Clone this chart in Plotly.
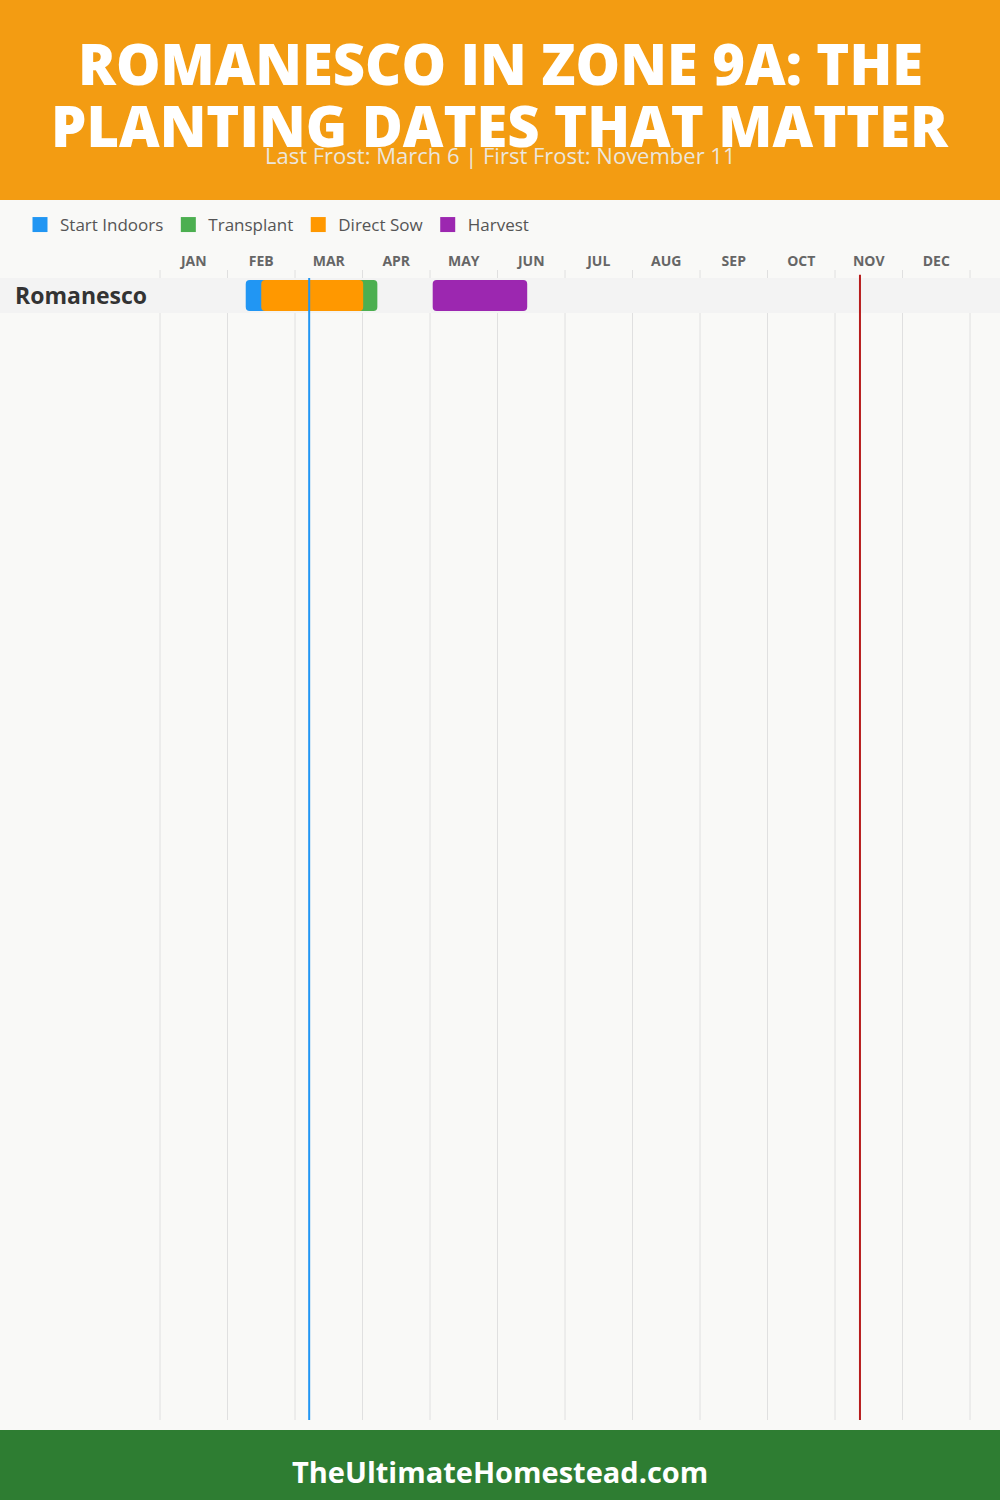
import plotly.graph_objects as go

# ---- data ----
crops = ["Romanesco"]
months = ["JAN", "FEB", "MAR", "APR", "MAY", "JUN", "JUL", "AUG", "SEP", "OCT", "NOV", "DEC"]
stages = ["Start Indoors", "Transplant", "Direct Sow", "Harvest"]
stage_colors = ["#2196F3", "#4CAF50", "#FF9800", "#9C27B0"]
# positions in months from Jan 1 (0 = Jan 1, 12 = Dec 31)
stage_start = [1.27, 2.20, 1.50, 4.04]
stage_end = [2.20, 3.22, 3.01, 5.44]
last_frost = 2.21   # March 6
first_frost = 10.37  # November 11
title_lines = ["ROMANESCO IN ZONE 9A: THE", "PLANTING DATES THAT MATTER"]
subtitle = "Last Frost: March 6 | First Frost: November 11"
footer = "TheUltimateHomestead.com"

W, H = 1000, 1500
FONT = "Open Sans"

# x axis: month 0 at pixel 160, 67.5 px per month, plot spans full width
px_per_month = 67.5
x_left = -160 / px_per_month
x_right = x_left + W / px_per_month

# y axis: domain from pixel 270 to 1420, row height 35 px, row 0 centred at 295.5
y_top_px, y_bot_px, row_px = 270, 1420, 35
y_top = -(295.5 - y_top_px) / row_px
y_bot = y_top + (y_bot_px - y_top_px) / row_px

fig = go.Figure()

for name, color, s, e in zip(stages, stage_colors, stage_start, stage_end):
    fig.add_trace(go.Bar(
        y=crops, x=[e - s], base=[s], orientation="h", name=name,
        marker=dict(color=color, line=dict(width=0)), width=31 / 35,
        hoverinfo="name", showlegend=False,
    ))
# legend entries (square swatches)
for name, color in zip(stages, stage_colors):
    fig.add_trace(go.Scatter(
        x=[None], y=[None], mode="markers", name=name,
        marker=dict(symbol="square", size=15, color=color), showlegend=True,
    ))

shapes = []
# header and footer
shapes.append(dict(type="rect", xref="paper", yref="paper", x0=0, x1=1, y0=1 - 200 / H, y1=1,
                   fillcolor="#F39C12", line=dict(width=0), layer="below"))
shapes.append(dict(type="rect", xref="paper", yref="paper", x0=0, x1=1, y0=0, y1=70 / H,
                   fillcolor="#2E7D32", line=dict(width=0), layer="below"))
# month grid lines
for m in range(len(months) + 1):
    shapes.append(dict(type="line", xref="x", yref="paper", x0=m, x1=m,
                       y0=1 - y_bot_px / H, y1=1 - y_top_px / H,
                       line=dict(color="#E0E0E0", width=1), layer="below"))
# row bands
for c in crops:
    shapes.append(dict(type="rect", xref="paper", yref="y", x0=0, x1=1, y0=-0.5, y1=0.5,
                       fillcolor="#F3F3F3", line=dict(width=0), layer="below"))
# frost lines
shapes.append(dict(type="line", xref="x", yref="y", x0=last_frost, x1=last_frost, y0=-0.5, y1=y_bot,
                   line=dict(color="#2196F3", width=2), layer="above"))
shapes.append(dict(type="line", xref="x", yref="y", x0=first_frost, x1=first_frost, y0=-0.59, y1=y_bot,
                   line=dict(color="#B71C1C", width=2), layer="above"))

annotations = []
for i, line in enumerate(title_lines):
    annotations.append(dict(text=line, xref="paper", yref="paper", x=0.5, y=1 - (63 + 62 * i) / H,
                            xanchor="center", yanchor="middle", showarrow=False,
                            font=dict(family=FONT, size=56, color="white", weight=800)))
annotations.append(dict(text=subtitle, xref="paper", yref="paper", x=0.5, y=1 - 155 / H,
                        xanchor="center", yanchor="middle", showarrow=False,
                        font=dict(family=FONT, size=22, color="#ECE6DC")))
annotations.append(dict(text=footer, xref="paper", yref="paper", x=0.5, y=1 - 1471 / H,
                        xanchor="center", yanchor="middle", showarrow=False,
                        font=dict(family=FONT, size=29, color="white", weight=700)))
for c in crops:
    annotations.append(dict(text=c, xref="paper", yref="y", x=13 / W, y=c,
                            xanchor="left", yanchor="middle", showarrow=False,
                            font=dict(family=FONT, size=23, color="#333333", weight=700)))

fig.update_layout(
    width=W, height=H,
    margin=dict(l=0, r=0, t=0, b=0),
    paper_bgcolor="#F9F9F7", plot_bgcolor="rgba(0,0,0,0)",
    barmode="overlay", barcornerradius=4,
    showlegend=True,
    legend=dict(orientation="h", x=0.02, y=1 - 225 / H, xanchor="left", yanchor="middle",
                font=dict(family=FONT, size=17, color="#555555"), bgcolor="rgba(0,0,0,0)",
                traceorder="normal", itemsizing="trace"),
    shapes=shapes, annotations=annotations,
    xaxis=dict(range=[x_left, x_right], side="top",
               tickvals=[i + 0.5 for i in range(12)], ticktext=months,
               tickfont=dict(family=FONT, size=14, color="#666666", weight=700),
               ticks="", showgrid=False, zeroline=False, showline=False,
               fixedrange=True),
    yaxis=dict(domain=[1 - y_bot_px / H, 1 - y_top_px / H], range=[y_bot, y_top],
               showticklabels=False, showgrid=False, zeroline=False, ticks="",
               fixedrange=True),
)

fig.write_html("out.html", config={"displayModeBar": False},
               post_script="document.body.style.margin='0px';")
